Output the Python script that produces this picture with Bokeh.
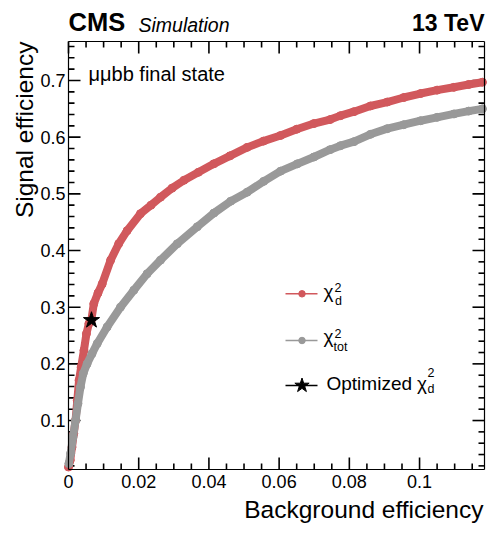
import math
from bokeh.plotting import figure
from bokeh.models import (Label, LinearAxis, FixedTicker, NumeralTickFormatter, Range1d)
from bokeh.embed import file_html
from bokeh.resources import INLINE

# ---------------- data ----------------
chi2d_bkg = [0.0, 0.0005, 0.001, 0.0015, 0.002, 0.0025, 0.003, 0.0036, 0.0044, 0.0051,
             0.0058, 0.0065, 0.0072, 0.0084, 0.0096, 0.012, 0.0143, 0.0167, 0.0205,
             0.0235, 0.0262, 0.0295, 0.0329, 0.037, 0.0414, 0.046, 0.0509, 0.0555,
             0.0604, 0.065, 0.0699, 0.0745, 0.0775, 0.0813, 0.086, 0.0908, 0.0955,
             0.1003, 0.105, 0.1098, 0.114, 0.1179]
chi2d_sig = [0.018, 0.030, 0.053, 0.077, 0.100, 0.135, 0.171, 0.194, 0.224, 0.253,
             0.271, 0.277, 0.306, 0.325, 0.341, 0.383, 0.412, 0.435, 0.465,
             0.480, 0.494, 0.510, 0.524, 0.538, 0.553, 0.567, 0.582, 0.593,
             0.603, 0.614, 0.624, 0.631, 0.638, 0.645, 0.655, 0.662, 0.670,
             0.677, 0.683, 0.688, 0.693, 0.697]

chi2tot_bkg = [0.0001, 0.0006, 0.0013, 0.002, 0.0027, 0.0034, 0.0042, 0.0053, 0.0067,
               0.0082, 0.011, 0.0148, 0.0186, 0.0224, 0.0262, 0.031, 0.0367, 0.0414,
               0.0462, 0.0509, 0.0556, 0.0604, 0.0652, 0.0699, 0.0745, 0.0775, 0.0813,
               0.086, 0.0908, 0.0955, 0.1003, 0.105, 0.1098, 0.114, 0.1179]
chi2tot_sig = [0.024, 0.042, 0.071, 0.100, 0.130, 0.159, 0.183, 0.200, 0.218,
               0.236, 0.265, 0.300, 0.330, 0.359, 0.383, 0.412, 0.442, 0.466,
               0.487, 0.503, 0.522, 0.540, 0.553, 0.565, 0.578, 0.585, 0.592,
               0.605, 0.615, 0.622, 0.629, 0.635, 0.641, 0.646, 0.650]

optimized_bkg = [0.00655]
optimized_sig = [0.277]

x_ticks = [0, 0.02, 0.04, 0.06, 0.08, 0.1]
x_minor = [round(0.005 * i, 4) for i in range(0, 24)]
y_ticks = [0.1, 0.2, 0.3, 0.4, 0.5, 0.6, 0.7]
y_minor = [round(0.02 * i, 3) for i in range(1, 39)]

# visible axis range of the plot frame
X0, X1 = 0.0, 0.1185
Y0, Y1 = 0.0136, 0.7688

RED = "#d1585c"
GRAY = "#999999"
FONT = "Liberation Sans"

W, H = 500, 533
# frame box in page pixels
FL, FR, FT, FB = 68, 484, 41, 469
# empirical offset of bokeh's alphabetic baseline (fraction of font size)
BASE_K = 0.38
MAJOR_LEN, MINOR_LEN = 12, 6   # tick lengths in pixels
TICK_W = 1.6                   # tick thickness in pixels

XPX = (X1 - X0) / (FR - FL)    # data units per pixel
YPX = (Y1 - Y0) / (FB - FT)


def dx(px):
    return X0 + (px - FL) * XPX


def dy(py):
    return Y1 - (py - FT) * YPX


# the bokeh frame spans the whole page, axes are placed at fixed locations
p = figure(width=W, height=H, output_backend="svg", toolbar_location=None,
           x_range=Range1d(dx(0), dx(W)), y_range=Range1d(dy(H), dy(0)),
           min_border=0, x_axis_location=None, y_axis_location=None)
p.xgrid.visible = False
p.ygrid.visible = False
p.outline_line_color = None
p.background_fill_color = "white"
p.border_fill_color = "white"


def frame_axis(ticks, minor, fmt, loc, bounds, standoff, show_labels):
    ax = LinearAxis(fixed_location=loc, bounds=bounds)
    ax.ticker = FixedTicker(ticks=ticks, minor_ticks=minor)
    ax.formatter = NumeralTickFormatter(format=fmt)
    ax.axis_line_color = "black"
    ax.axis_line_width = 1.2
    ax.major_tick_in = 0
    ax.major_tick_out = 0
    ax.minor_tick_in = 0
    ax.minor_tick_out = 0
    ax.major_tick_line_color = None
    ax.minor_tick_line_color = None
    ax.major_label_text_font = FONT
    ax.major_label_text_font_size = "18px"
    ax.major_label_text_color = "black" if show_labels else None
    ax.major_label_standoff = standoff
    return ax


p.add_layout(frame_axis(x_ticks, x_minor, "0.[00]", Y0, (X0, X1), 5, True), "below")
p.add_layout(frame_axis(y_ticks, y_minor, "0.[0]", X0, (Y0, Y1), 3, True), "left")
p.add_layout(frame_axis(x_ticks, x_minor, "0.[00]", Y1, (X0, X1), 0, False), "above")
p.add_layout(frame_axis(y_ticks, y_minor, "0.[0]", X1, (Y0, Y1), 0, False), "right")

# inward tick marks on all four sides, at the tick positions
xt_major = [t for t in x_ticks if X0 <= t <= X1]
xt_minor = [t for t in x_minor if X0 <= t <= X1 and t not in x_ticks]
yt_major = [t for t in y_ticks if Y0 <= t <= Y1]
yt_minor = [t for t in y_minor if Y0 <= t <= Y1 and t not in y_ticks]

for ts, ln in ((xt_major, MAJOR_LEN), (xt_minor, MINOR_LEN)):
    for yb, sgn in ((Y0, 1), (Y1, -1)):
        p.segment(x0=ts, y0=[yb] * len(ts), x1=ts, y1=[yb + sgn * ln * YPX] * len(ts),
                  line_color="black", line_width=TICK_W)
for ts, ln in ((yt_major, MAJOR_LEN), (yt_minor, MINOR_LEN)):
    for xb, sgn in ((X0, 1), (X1, -1)):
        p.segment(x0=[xb] * len(ts), y0=ts, x1=[xb + sgn * ln * XPX] * len(ts), y1=ts,
                  line_color="black", line_width=TICK_W)

# curves
p.line(chi2d_bkg, chi2d_sig, line_color=RED, line_width=8,
       line_cap="round", line_join="round")
p.scatter(chi2d_bkg, chi2d_sig, size=8, fill_color=RED, line_color=RED)
p.line(chi2tot_bkg, chi2tot_sig, line_color=GRAY, line_width=8,
       line_cap="round", line_join="round")
p.scatter(chi2tot_bkg, chi2tot_sig, size=8, fill_color=GRAY, line_color=GRAY)
p.scatter(optimized_bkg, optimized_sig, marker="star", size=17,
          fill_color="black", line_color="black")

# legend keys (drawn at page positions)
KEY_X0, KEY_X1, KEY_XC = 285, 317, 301.5
key_rows = [(293.3, RED, "circle", 6.5), (340.0, GRAY, "circle", 6.5), (385.0, "black", "star", 15)]
for ky, kc, km, ks in key_rows:
    p.line([dx(KEY_X0), dx(KEY_X1)], [dy(ky), dy(ky)], line_color=kc, line_width=1.5)
    p.scatter([dx(KEY_XC)], [dy(ky)], marker=km, size=ks, fill_color=kc, line_color=kc)


def label(px, py, text, size, style="normal", align="left", rotated=False):
    off = BASE_K * size
    if rotated:
        x, y, angle = px - off, py, math.pi / 2
    else:
        x, y, angle = px, py - off, 0.0
    p.add_layout(Label(x=dx(x), y=dy(y), text=text, text_font=FONT,
                       text_font_size=f"{size}px", text_font_style=style,
                       text_align=align, text_baseline="alphabetic",
                       text_color="black", angle=angle))


# header
label(68, 31.5, "CMS", 25.5, "bold")
label(138, 31.5, "Simulation", 19.5, "italic")
label(484, 31.5, "13 TeV", 23, "bold", align="right")
label(88, 81, "μμbb final state", 20)

# axis titles
label(483, 518, "Background efficiency", 24.5, align="right")
label(33, 41, "Signal efficiency", 24.5, align="right", rotated=True)

# legend texts
label(323, 298, "χ", 19)
label(334, 291.7, "2", 12.5)
label(334.5, 305.5, "d", 12.5)

label(323, 343.5, "χ", 19)
label(334, 337.3, "2", 12.5)
label(333, 351.7, "tot", 12.5)

label(326, 390, "Optimized", 19)
label(416.5, 390, "χ", 19)
label(427, 377, "2", 12.5)
label(427, 393, "d", 12.5)

open("out.html", "w").write(file_html(p, INLINE))
